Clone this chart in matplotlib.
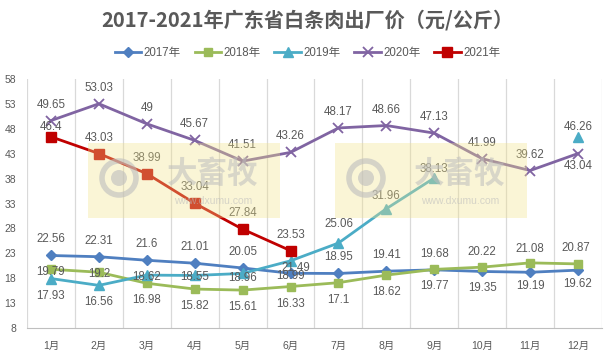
import matplotlib
matplotlib.use('Agg')
import matplotlib.pyplot as plt
from matplotlib.patches import Rectangle, Circle
import numpy as np

plt.rcParams['font.family'] = ['Liberation Sans', 'Noto Sans CJK SC', 'DejaVu Sans']

months = ['1月', '2月', '3月', '4月', '5月', '6月', '7月', '8月', '9月', '10月', '11月', '12月']
v2017 = [22.56, 22.31, 21.6, 21.01, 20.05, 18.99, 18.95, 19.41, 19.68, 19.35, 19.19, 19.62]
v2018 = [19.79, 19.2, 16.98, 15.82, 15.61, 16.33, 17.1, 18.62, 19.77, 20.22, 21.08, 20.87]
v2019 = [17.93, 16.56, 18.62, 18.55, 18.96, 21.49, 25.06, 31.96, 38.13, np.nan, np.nan, 46.26]
v2020 = [49.65, 53.03, 49, 45.67, 41.51, 43.26, 48.17, 48.66, 47.13, 41.99, 39.62, 43.04]
v2021 = [46.4, 43.03, 38.99, 33.04, 27.84, 23.53]

# label offsets in pixels (dx, dy), dy positive = down on image
A, B = -16, 17
off2017 = [(0, A)] * 5 + [(0, 3), (0, A), (0, A), (0, A), (0, B), (0, 14), (0, 14)]
off2018 = [(0, 3), (0, 2)] + [(0, B)] * 7 + [(0, -15), (0, -14), (-2, -16)]
off2019 = [(0, B), (0, B), (0, 2), (0, 2), (0, 5), (5, 7), (0, -19), (0, -13), (0, -9), None, None, (0, -10)]
off2020 = [(0, A)] * 11 + [(0, 12)]
off2021 = [(0, -10)] + [(0, A)] * 5

series = [
    ('2017年', v2017, '#4F7FC0', 'D', 5, off2017),
    ('2018年', v2018, '#9BBB59', 's', 6, off2018),
    ('2019年', v2019, '#4BACC6', '^', 7, off2019),
    ('2020年', v2020, '#8064A2', 'x', 7, off2020),
    ('2021年', v2021, '#C00000', 's', 7.5, off2021),
]

W, H = 615, 356
fig = plt.figure(figsize=(W / 100, H / 100), dpi=100)
ax = fig.add_axes([27 / W, 1 - 328 / H, (602 - 27) / W, (328 - 79) / H])

label_color = '#595959'
for name, vals, color, mk, ms, offs in series:
    x = np.arange(len(vals))
    ax.plot(x, vals, color=color, lw=2.0, marker=mk, ms=ms, mew=1.3 if mk == 'x' else 1,
            mfc=color, mec=color, label=name)
    for xi, v, o in zip(x, vals, offs):
        if o is None or np.isnan(v):
            continue
        ax.annotate(f'{v:g}', (xi, v), xytext=(o[0], -o[1]), textcoords='offset pixels',
                    ha='center', va='center', fontsize=8.3, color=label_color)

ax.set_xlim(-0.5, 11.5)
ax.set_ylim(8, 58)
ax.set_yticks(np.arange(8, 59, 5))
ax.set_xticks(np.arange(12))
ax.set_xticklabels(months)
ax.tick_params(axis='both', length=0, colors=label_color, labelsize=7.5)
ax.tick_params(axis='x', pad=9)
ax.tick_params(axis='y', pad=8)
for xb in np.arange(-0.5, 12, 1):
    ax.axvline(xb, color='#D9D9D9', lw=0.9, zorder=0)
for s in ['top', 'right', 'left']:
    ax.spines[s].set_visible(False)
ax.spines['bottom'].set_color('#BFBFBF')

leg = fig.legend(loc='center', bbox_to_anchor=(0.5, 1 - 53 / H), ncol=5, frameon=False,
                 fontsize=8.3, handlelength=2.3, columnspacing=1.2, handletextpad=0.2)
for t in leg.get_texts():
    t.set_color(label_color)

fig.text(0.5, 1 - 20 / H, '2017-2021年广东省白条肉出厂价（元/公斤）', ha='center', va='center',
         fontsize=14.5, fontweight='bold', color='#595959',
         family=['Noto Sans CJK SC', 'DejaVu Sans'])

# watermark overlay
ov = fig.add_axes([0, 0, 1, 1], zorder=5)
ov.set_xlim(0, W)
ov.set_ylim(H, 0)
ov.axis('off')
ov.patch.set_alpha(0)
for x0 in [88, 335]:
    ov.add_patch(Rectangle((x0, 143), 192, 75, facecolor='#F2E38A', alpha=0.35, edgecolor='none'))
    ov.add_patch(Circle((x0 + 31, 178), 17, facecolor='none', edgecolor='#BDBDBD', lw=4, alpha=0.6))
    ov.add_patch(Circle((x0 + 31, 178), 8, facecolor='#BDBDBD', edgecolor='none', alpha=0.6))
    ov.text(x0 + 125, 174, '大畜牧', ha='center', va='center', fontsize=22, fontweight='bold',
            color='#BDBDBD', alpha=0.55, family=['Noto Sans CJK SC'])
    ov.text(x0 + 125, 201, 'www.dxumu.com', ha='center', va='center', fontsize=7.5,
            color='#BDBDBD', alpha=0.6)

fig.savefig('out.png', dpi=100, facecolor='white')
